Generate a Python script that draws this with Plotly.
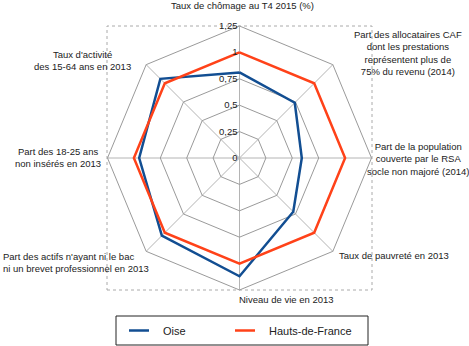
import plotly.graph_objects as go

categories = [
    "Taux de chômage au T4 2015 (%)",
    "Part des allocataires CAF<br>dont les prestations<br>représentent plus de<br>75% du revenu (2014)",
    "Part de la population<br>couverte par le RSA<br>socle non majoré (2014)",
    "Taux de pauvreté en 2013",
    "Niveau de vie en 2013",
    "Part des actifs n'ayant ni le bac<br>ni un brevet professionnel en 2013",
    "Part des 18-25 ans<br>non insérés en 2013",
    "Taux d'activité<br>des 15-64 ans en 2013",
]
oise = [0.81, 0.74, 0.59, 0.72, 1.12, 1.04, 0.95, 1.06]
hdf = [1, 1, 1, 1, 1, 1, 1, 1]
tick_vals = [0, 0.25, 0.5, 0.75, 1, 1.25]
tick_text = ["0", "0,25", "0,5", "0,75", "1", "1,25"]

FONT = "Liberation Sans, Arial, sans-serif"
BLUE = "#124E92"
RED = "#FF4219"
TXT = "#222"

fig = go.Figure()
fig.add_trace(go.Scatterpolar(
    r=oise + oise[:1], theta=categories + categories[:1], mode="lines",
    line=dict(color=BLUE, width=2.5), name="Oise", showlegend=False))
fig.add_trace(go.Scatterpolar(
    r=hdf + hdf[:1], theta=categories + categories[:1], mode="lines",
    line=dict(color=RED, width=2.5), name="Hauts-de-France", showlegend=False))

W, H = 469, 346
def px(x):
    return x / W
def py(y):
    return 1 - y / H

# label placement (pixel anchor positions), one per category
label_pos = [
    (243, 5, "center"),
    (408, 52.5, "center"),
    (418, 158.5, "center"),
    (337, 255, "left"),
    (237, 299, "left"),
    (1, 262.5, "left"),
    (58, 157, "center"),
    (82, 61, "center"),
]

annotations = []
for cat, (x, y, anc) in zip(categories, label_pos):
    annotations.append(dict(
        text=cat, xref="paper", yref="paper", x=px(x), y=py(y),
        xanchor=anc, yanchor="middle", align="center" if anc == "center" else "left",
        showarrow=False, font=dict(size=9.5, family=FONT, color=TXT)))

annotations += [
    dict(text="Oise", xref="paper", yref="paper", x=px(161), y=py(330.5),
         xanchor="left", yanchor="middle", showarrow=False,
         font=dict(size=11, family=FONT, color=TXT)),
    dict(text="Hauts-de-France", xref="paper", yref="paper", x=px(267), y=py(330.5),
         xanchor="left", yanchor="middle", showarrow=False,
         font=dict(size=11, family=FONT, color=TXT)),
]

fig.update_layout(
    width=W, height=H,
    margin=dict(l=0, r=0, t=0, b=0),
    paper_bgcolor="white",
    font=dict(family=FONT, size=10, color=TXT),
    separators=", ",
    polar=dict(
        domain=dict(x=[px(107), px(372)], y=[py(290), py(26)]),
        bgcolor="white",
        gridshape="linear",
        radialaxis=dict(
            range=[0, 1.25], angle=90, tickangle=90, side="counterclockwise",
            tickvals=tick_vals, ticktext=tick_text,
            showline=False, ticks="", gridcolor="#9a9a9a", gridwidth=1,
            tickfont=dict(size=9.5, family=FONT, color=TXT),
        ),
        angularaxis=dict(
            direction="clockwise", rotation=90,
            gridcolor="#b4b4b4", linecolor="#9a9a9a", linewidth=1,
            ticks="", showticklabels=False,
        ),
    ),
    shapes=[
        dict(type="rect", xref="paper", yref="paper",
             x0=px(107), x1=px(372), y0=py(290), y1=py(26),
             line=dict(color="#aaaaaa", width=1, dash="dot"), layer="below"),
        dict(type="rect", xref="paper", yref="paper",
             x0=px(116), x1=px(368), y0=py(345), y1=py(316),
             line=dict(color=TXT, width=1)),
        dict(type="line", xref="paper", yref="paper",
             x0=px(129), x1=px(149), y0=py(330.5), y1=py(330.5),
             line=dict(color=BLUE, width=2.5)),
        dict(type="line", xref="paper", yref="paper",
             x0=px(235), x1=px(255), y0=py(330.5), y1=py(330.5),
             line=dict(color=RED, width=2.5)),
    ],
    annotations=annotations,
)

fig.write_html("out.html")
